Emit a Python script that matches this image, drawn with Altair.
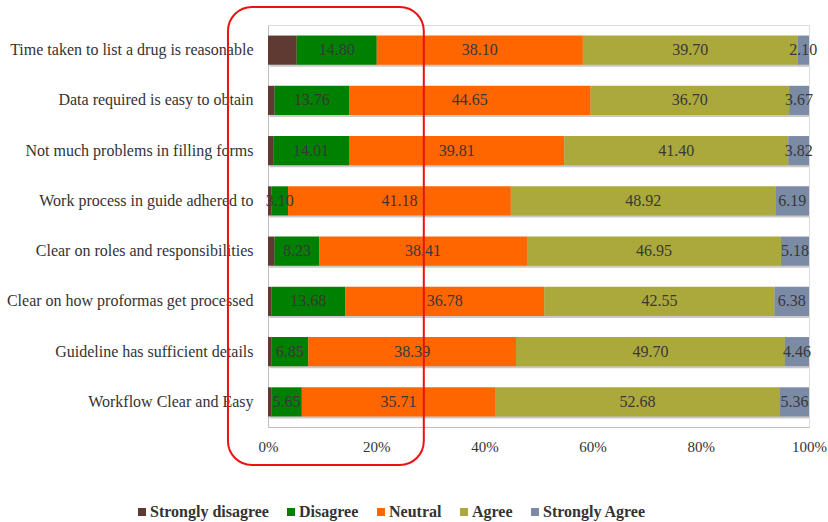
import altair as alt
import pandas as pd

categories = [
    "Time taken to list a drug is reasonable",
    "Data required is easy to obtain",
    "Not much problems in filling forms",
    "Work process in guide adhered to",
    "Clear on roles and responsibilities",
    "Clear on how proformas get processed",
    "Guideline has sufficient details",
    "Workflow Clear and Easy",
]
levels = ["Strongly disagree", "Disagree", "Neutral", "Agree", "Strongly Agree"]
colors = ["#5e3a32", "#008000", "#ff6600", "#aba83c", "#7b8ba5"]

strongly_disagree = [5.30, 1.22, 0.96, 0.61, 1.23, 0.61, 0.60, 0.60]
disagree = [14.80, 13.76, 14.01, 3.10, 8.23, 13.68, 6.85, 5.65]
neutral = [38.10, 44.65, 39.81, 41.18, 38.41, 36.78, 38.39, 35.71]
agree = [39.70, 36.70, 41.40, 48.92, 46.95, 42.55, 49.70, 52.68]
strongly_agree = [2.10, 3.67, 3.82, 6.19, 5.18, 6.38, 4.46, 5.36]

# annotation box extent along the x (percent) axis
highlight_x = [-7.4, 28.8]

series = [strongly_disagree, disagree, neutral, agree, strongly_agree]
rows = []
for i, cat in enumerate(categories):
    start = 0.0
    for j, lvl in enumerate(levels):
        v = series[j][i]
        rows.append({
            "category": cat, "level": lvl, "order": j, "value": v,
            "start": start, "end": start + v, "mid": start + v / 2,
            "show": j > 0,
        })
        start += v
df = pd.DataFrame(rows)
totals = pd.DataFrame({"category": categories, "start": [0] * len(categories),
                       "end": [sum(s[i] for s in series) for i in range(len(categories))]})

FONT = "Liberation Serif"

y_enc = alt.Y("category:N", sort=categories, title=None,
              scale=alt.Scale(paddingInner=0.42, paddingOuter=0.21),
              axis=alt.Axis(labelFont=FONT, labelFontSize=16, labelColor="#333333",
                            labelPadding=15, labelLimit=0, ticks=False,
                            domainColor="#bfbfbf", domainWidth=1))
x_scale = alt.Scale(domain=[0, 100], nice=False)

shadow = alt.Chart(totals).mark_bar(color="#888888", opacity=0.45, yOffset=2, xOffset=1.5).encode(
    x=alt.X("start:Q", scale=x_scale, title=None),
    x2="end:Q",
    y=y_enc,
)

bars = alt.Chart(df).mark_bar().encode(
    x=alt.X("start:Q", scale=x_scale, title=None,
            axis=alt.Axis(values=[0, 20, 40, 60, 80, 100], labelExpr="datum.value + '%'",
                          labelFont=FONT, labelFontSize=15, labelColor="#333333",
                          labelFlush=False, ticks=False, grid=False, labelPadding=12,
                          domainColor="#bfbfbf", domainWidth=1)),
    x2="end:Q",
    y=y_enc,
    color=alt.Color("level:N", sort=levels,
                    scale=alt.Scale(domain=levels, range=colors),
                    legend=alt.Legend(title=None, orient="none", direction="horizontal",
                                      legendX=-134, legendY=479, padding=0,
                                      symbolType="square", symbolSize=64,
                                      symbolStrokeWidth=0, labelOffset=0,
                                      columnPadding=14,
                                      labelFont=FONT, labelFontSize=16,
                                      labelFontWeight="bold", labelColor="#333333")),
    order="order:Q",
)

labels = alt.Chart(df).transform_filter("datum.show").mark_text(
    font=FONT, fontSize=16, color="#383838", baseline="middle", align="center"
).encode(
    x=alt.X("mid:Q", scale=x_scale),
    y=alt.Y("category:N", sort=categories),
    text=alt.Text("value:Q", format=".2f"),
)

box = alt.Chart(pd.DataFrame({"x0": [highlight_x[0]], "x1": [highlight_x[1]]})).mark_rect(
    stroke="#ee1111", strokeWidth=2, fillOpacity=0, cornerRadius=24
).encode(
    x=alt.X("x0:Q", scale=x_scale),
    x2="x1:Q",
    y=alt.value(-18),
    y2=alt.value(440),
)

chart = alt.layer(shadow, bars, labels, box).properties(
    width=541, height=402,
    autosize=alt.AutoSizeParams(type="none"),
    padding={"left": 268, "top": 25, "right": 19, "bottom": 95},
).configure_view(stroke=None).configure(background="white")

chart.save("out.html", embed_options={"renderer": "svg", "actions": False})
